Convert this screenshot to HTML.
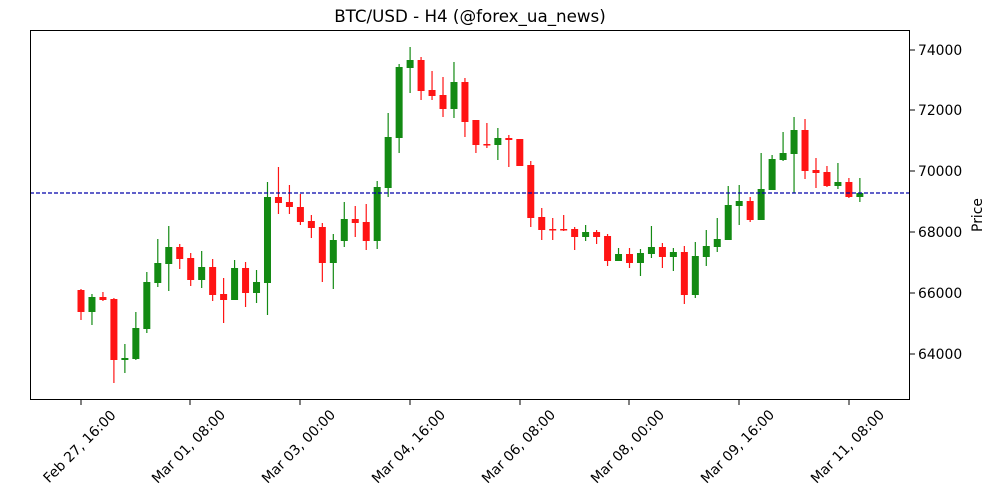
<!DOCTYPE html>
<html><head><meta charset="utf-8"><style>
html,body{margin:0;padding:0;background:#fff;}
svg{display:block;font-family:"DejaVu Sans","Liberation Sans",sans-serif;}
</style></head><body>
<svg id="s" width="1000" height="500" xmlns="http://www.w3.org/2000/svg">
<rect width="1000" height="500" fill="#fff"/>
<text x="470" y="22" font-size="16.7" text-anchor="middle">BTC/USD - H4 (@forex_ua_news)</text>
<g id="c"></g>
<line x1="30" y1="193" x2="910" y2="193" stroke="#0000aa" stroke-width="1.2" stroke-dasharray="4,2"/>
<rect x="30.5" y="30.5" width="879" height="369" fill="none" stroke="#000" stroke-width="1"/>
<g font-size="13.9" fill="#000">
<g stroke="#000"><line x1="910" y1="354" x2="915" y2="354"/><line x1="910" y1="293" x2="915" y2="293"/><line x1="910" y1="232" x2="915" y2="232"/><line x1="910" y1="171" x2="915" y2="171"/><line x1="910" y1="110" x2="915" y2="110"/><line x1="910" y1="50" x2="915" y2="50"/></g>
<text x="918" y="359">64000</text><text x="918" y="298">66000</text><text x="918" y="237">68000</text><text x="918" y="176">70000</text><text x="918" y="115">72000</text><text x="918" y="55">74000</text>
<text transform="translate(982,215) rotate(-90)" text-anchor="middle">Price</text>
<g stroke="#000"><line x1="81" y1="400" x2="81" y2="405"/><line x1="190" y1="400" x2="190" y2="405"/><line x1="300" y1="400" x2="300" y2="405"/><line x1="410" y1="400" x2="410" y2="405"/><line x1="520" y1="400" x2="520" y2="405"/><line x1="629" y1="400" x2="629" y2="405"/><line x1="739" y1="400" x2="739" y2="405"/><line x1="849" y1="400" x2="849" y2="405"/></g>
<text transform="translate(80,447) rotate(-45)" text-anchor="middle" dominant-baseline="middle">Feb 27, 16:00</text>
<text transform="translate(189,447) rotate(-45)" text-anchor="middle" dominant-baseline="middle">Mar 01, 08:00</text>
<text transform="translate(299,447) rotate(-45)" text-anchor="middle" dominant-baseline="middle">Mar 03, 00:00</text>
<text transform="translate(409,447) rotate(-45)" text-anchor="middle" dominant-baseline="middle">Mar 04, 16:00</text>
<text transform="translate(519,447) rotate(-45)" text-anchor="middle" dominant-baseline="middle">Mar 06, 08:00</text>
<text transform="translate(628,447) rotate(-45)" text-anchor="middle" dominant-baseline="middle">Mar 08, 00:00</text>
<text transform="translate(738,447) rotate(-45)" text-anchor="middle" dominant-baseline="middle">Mar 09, 16:00</text>
<text transform="translate(848,447) rotate(-45)" text-anchor="middle" dominant-baseline="middle">Mar 11, 08:00</text>
</g>
</svg>
<script>
var d=[
"r290,312,289,320","g297,312,294,325","r297,300,292,301","r299,360,298,383","g358,360,344,373",
"g328,359,312,360","g282,329,272,333","g263,283,239,287","g247,264,226,291","r247,259,244,269",
"r258,280,253,286","g267,280,251,288","r267,295,259,301","r294,300,278,323","g268,300,260,300",
"r268,293,262,307","g282,293,270,303","g197,283,182,315","r197,203,167,214","r202,207,185,214",
"r207,222,194,225","r221,228,215,238","r227,263,223,282","g240,263,234,289","g219,241,202,247",
"r219,223,206,237","r222,241,204,250","g187,241,181,249","g137,188,113,197","g67,138,64,153",
"g60,68,47,93","r60,91,57,100","r90,96,71,100","r95,109,77,117","g82,109,62,118",
"r82,122,78,137","r120,145,120,153","r144,145,123,148","g138,145,128,160","r138,140,135,167",
"r139,166,139,166","r165,218,161,227","r217,230,208,240","r229,230,218,240","r229,230,215,231",
"r229,237,227,250","g232,237,225,241","r232,237,230,244","r236,261,234,266","g254,261,248,261",
"r254,263,248,268","g253,263,249,276","g247,254,226,258","r247,257,243,268","g252,257,248,271",
"r252,295,246,304","g256,295,242,298","g246,257,230,266","g239,247,218,252","g205,240,186,240",
"g201,206,185,225","r201,220,197,222","g189,220,153,220","g159,190,155,190","g153,160,132,161",
"g130,154,117,193","r130,171,119,179","r170,173,158,188","r172,186,166,187","g182,186,163,189",
"r182,197,178,198","g193,197,178,202"];
var g=document.getElementById('c'),h='';
d.forEach(function(s,i){var c=s[0]=='g'?'#138a13':'#ff1414';var v=s.slice(1).split(',').map(Number);
var x=81+i*10.97;var bt=v[0],bb=Math.max(v[1],v[0]+1.5);
h+='<line x1="'+x+'" x2="'+x+'" y1="'+v[2]+'" y2="'+v[3]+'" stroke="'+c+'" stroke-width="1.2"/>';
h+='<rect x="'+(x-3.5)+'" y="'+bt+'" width="7" height="'+(bb-bt)+'" fill="'+c+'"/>';});
g.innerHTML=h;
</script>
</body></html>
